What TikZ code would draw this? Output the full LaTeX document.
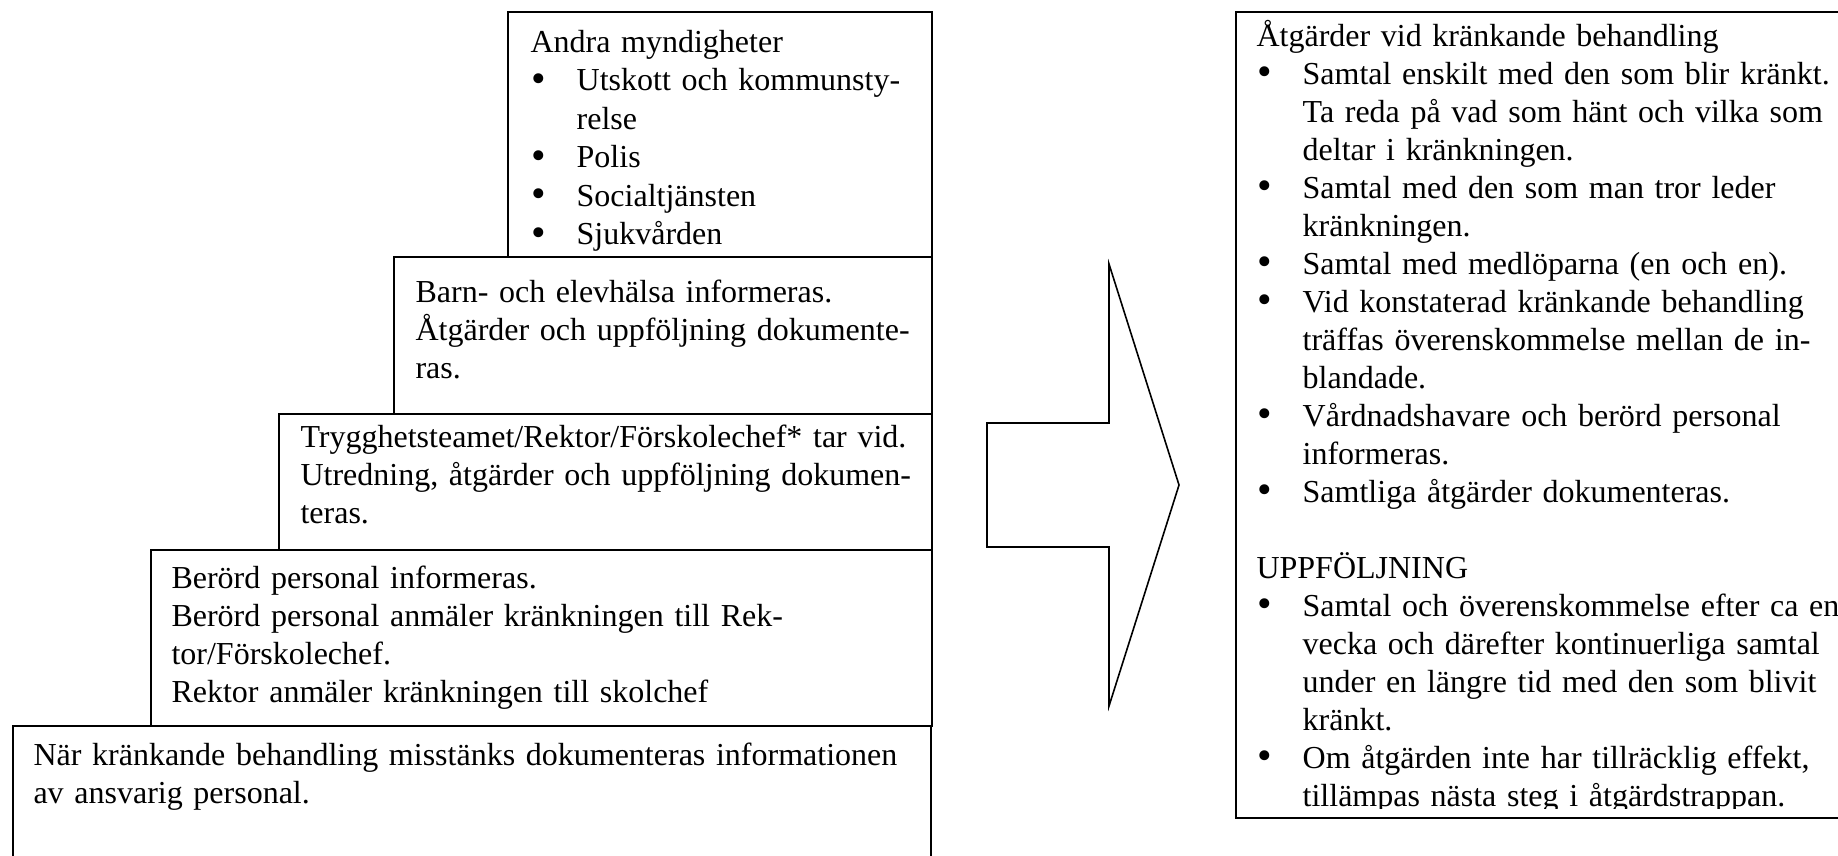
\documentclass[tikz,border=0pt]{standalone}
\usepackage{fontspec}
\setmainfont{Liberation Serif}
\usetikzlibrary{fit}
\newcommand\bdot{\raisebox{-0.6pt}{\scalebox{1.3}{•}}}
\newcommand\bi[1]{\makebox[17.3pt][l]{\hspace*{0.3pt}\bdot}#1}
\newcommand\bc[1]{\hspace*{17.3pt}#1}
\tikzset{
  box/.style={draw, line width=0.6pt, fill=white, inner sep=0pt, rectangle},
  txt/.style={anchor=base west, inner sep=0pt, align=left, text width=#1,
    font=\fontsize{12pt}{14.25pt}\selectfont},
  txtA/.style={anchor=base west, inner sep=0pt, align=left, text width=#1,
    font=\fontsize{12pt}{14.44pt}\selectfont},
  arrowshape/.style={draw, line width=0.6pt, fill=white, line join=miter}
}
\begin{document}
\begin{tikzpicture}[x=0.375pt, y=-0.375pt]
\useasboundingbox (0,0) rectangle (1838,855);
\fill[white] (0,0) rectangle (1838,855);
\clip (0,0) rectangle (1838,855);

% left staircase (bottom first so upper boxes sit on top)
\node[box, fit={(13,726) (931,880)}] (b5) {};
\node[box, fit={(151,550) (932,726)}] (b4) {};
\node[box, fit={(279,414) (932,550)}] (b3) {};
\node[box, fit={(394,257) (932,414)}] (b2) {};
\node[box, fit={(508,12) (932,257)}] (b1) {};

\node[txtA=300pt] (t1) at (530,52) {Andra myndigheter\\
\bi{Utskott och kommunsty-}\\
\bc{relse}\\
\bi{Polis}\\
\bi{Socialtjänsten}\\
\bi{Sjukvården}};

\node[txt=300pt] (t2) at (415,302) {Barn- och elevhälsa informeras.\\
Åtgärder och uppföljning dokumente-\\
ras.};

\node[txt=300pt] (t3) at (300,447) {Trygghetsteamet/Rektor/Förskolechef* tar vid.\\
Utredning, åtgärder och uppföljning dokumen-\\
teras.};

\node[txt=300pt] (t4) at (171,588) {Berörd personal informeras.\\
Berörd personal anmäler kränkningen till Rek-\\
tor/Förskolechef.\\
Rektor anmäler kränkningen till skolchef};

\node[txt=400pt] (t5) at (33,765) {När kränkande behandling misstänks dokumenteras informationen\\
av ansvarig personal.};

% block arrow
\draw[arrowshape] (987,423) -- (1109,423) -- (1109,264) -- (1179,485)
  -- (1109,706) -- (1109,547) -- (987,547) -- cycle;

% right box (its right side runs past the picture's edge)
\node[box, fit={(1236,12) (1860,818)}] (r) {};
\begin{scope}
\clip (1236,12) rectangle (1838,808);
\node[txt=300pt] (rt) at (1256,46) {Åtgärder vid kränkande behandling\\
\bi{Samtal enskilt med den som blir kränkt.}\\
\bc{Ta reda på vad som hänt och vilka som}\\
\bc{deltar i kränkningen.}\\
\bi{Samtal med den som man tror leder}\\
\bc{kränkningen.}\\
\bi{Samtal med medlöparna (en och en).}\\
\bi{Vid konstaterad kränkande behandling}\\
\bc{träffas överenskommelse mellan de in-}\\
\bc{blandade.}\\
\bi{Vårdnadshavare och berörd personal}\\
\bc{informeras.}\\
\bi{Samtliga åtgärder dokumenteras.}\\
\mbox{}\\
UPPFÖLJNING\\
\bi{Samtal och överenskommelse efter ca en}\\
\bc{vecka och därefter kontinuerliga samtal}\\
\bc{under en längre tid med den som blivit}\\
\bc{kränkt.}\\
\bi{Om åtgärden inte har tillräcklig effekt,}\\
\bc{tillämpas nästa steg i åtgärdstrappan.}};
\end{scope}
\end{tikzpicture}
\end{document}
